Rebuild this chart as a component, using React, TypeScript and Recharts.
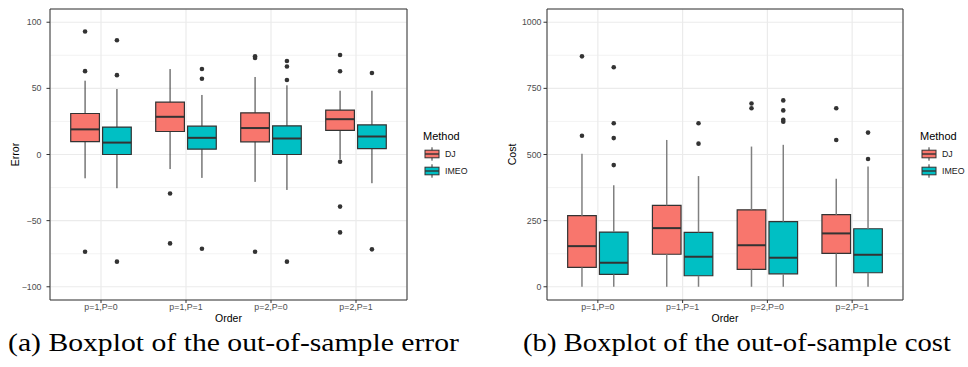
import React from "react"
import {
  ComposedChart,
  XAxis,
  YAxis,
  CartesianGrid,
  ReferenceArea,
  ReferenceLine,
  Scatter,
} from "recharts"

const categories = ["p=1,P=0", "p=1,P=1", "p=2,P=0", "p=2,P=1"]
const methods = ["DJ", "IMEO"]
const methodColors = ["#F8766D", "#00BFC4"]

// box stats per category: [lower whisker, Q1, median, Q3, upper whisker]
const errorDJ = [
  [-18, 9.8, 19, 31, 55.8],
  [-11, 17.4, 28.5, 39.6, 64.6],
  [-20.7, 9.6, 20, 31.5, 58.6],
  [-3.5, 18.2, 26.7, 33.6, 48.2],
]
const errorIMEO = [
  [-25.5, 0, 9, 20.7, 49.5],
  [-17.7, 4, 12.6, 21.4, 45],
  [-26.8, 0, 12.1, 21.7, 52.3],
  [-21.7, 4.5, 13.6, 22.4, 48.2],
]
const errorDJOutliers = [
  [93, 63, -73.5],
  [-29.5, -67.2],
  [74.2, 73, -73.5],
  [75.2, 62.9, -5.5, -39.4, -58.9],
]
const errorIMEOOutliers = [
  [86.4, 60, -81],
  [64.6, 57.3, -71.2],
  [70.7, 66.5, 56.3, -81],
  [61.6, -71.7],
]

const costDJ = [
  [0, 73, 153.6, 268.6, 503],
  [0, 123, 221.7, 307.6, 555],
  [0, 65.5, 157, 291, 530],
  [0, 126, 201.7, 272.4, 408.6],
]
const costIMEO = [
  [0, 46.5, 90.8, 206.6, 384],
  [0, 41.6, 113.5, 205.5, 418.5],
  [0, 49, 109.8, 246, 536.6],
  [0, 53, 121, 219.4, 455],
]
const costDJOutliers = [[871, 571], [], [693, 675], [674.6, 555]]
const costIMEOOutliers = [
  [830, 618, 562, 460],
  [618, 541],
  [704.5, 666.7, 631.3, 623.7],
  [582.7, 482.8],
]

const errorTicks = [-100, -50, 0, 50, 100]
const errorMinor = [-75, -25, 25, 75]
const costTicks = [0, 250, 500, 750, 1000]
const costMinor = [125, 375, 625, 875]

const DODGE = 0.1875
const HALF = 0.16875
const SANS = "'Liberation Sans', Arial, sans-serif"

const fmt = (v: number) => (v < 0 ? "\u2212" + Math.abs(v) : String(v))

type PanelProps = {
  stats: number[][][]
  outliers: number[][][]
  domain: [number, number]
  ticks: number[]
  minor: number[]
  yLabel: string
  labelX: number
  whiskerColor: string
  whiskerWidth: number
  yAxisWidth: number
  tickMargin: number
  rightMargin: number
}

function BoxPanel(p: PanelProps) {
  const items: React.ReactNode[] = []
  p.stats.forEach((series, m) => {
    const off = m === 0 ? -DODGE : DODGE
    series.forEach((s, i) => {
      const cx = i + 1 + off
      items.push(
        <ReferenceLine
          key={`wl-${m}-${i}`}
          segment={[{ x: cx, y: s[0] }, { x: cx, y: s[1] }]}
          stroke={p.whiskerColor}
          strokeWidth={p.whiskerWidth}
        />,
        <ReferenceLine
          key={`wh-${m}-${i}`}
          segment={[{ x: cx, y: s[3] }, { x: cx, y: s[4] }]}
          stroke={p.whiskerColor}
          strokeWidth={p.whiskerWidth}
        />,
        <ReferenceArea
          key={`box-${m}-${i}`}
          x1={cx - HALF}
          x2={cx + HALF}
          y1={s[1]}
          y2={s[3]}
          fill={methodColors[m]}
          fillOpacity={1}
          stroke="#333333"
          strokeWidth={1.2}
        />,
        <ReferenceLine
          key={`med-${m}-${i}`}
          segment={[{ x: cx - HALF, y: s[2] }, { x: cx + HALF, y: s[2] }]}
          stroke="#333333"
          strokeWidth={2}
        />
      )
    })
  })

  const points = p.outliers.map((series, m) => {
    const off = m === 0 ? -DODGE : DODGE
    return series.flatMap((vals, i) => vals.map((v) => ({ x: i + 1 + off, y: v })))
  })

  return (
    <ComposedChart
      width={484}
      height={330}
      margin={{ top: 9, right: p.rightMargin, bottom: 0, left: 0 }}
    >
      <CartesianGrid
        stroke="#F0F0F0"
        strokeWidth={0.8}
        vertical={false}
        horizontalValues={p.minor}
      />
      <CartesianGrid stroke="#EBEBEB" strokeWidth={1.2} />
      <XAxis
        type="number"
        dataKey="x"
        domain={[0.4, 4.6]}
        ticks={[1, 2, 3, 4]}
        interval={0}
        allowDataOverflow
        tickFormatter={(v: number) => categories[Math.round(v) - 1]}
        height={30}
        axisLine={false}
        tickLine={{ stroke: "#333333" }}
        tickSize={3}
        tickMargin={1}
        tick={{ fontSize: 8.8, fill: "#4D4D4D", fontFamily: SANS }}
        label={{
          content: (props: any) => {
            const vb = props.viewBox || {}
            return (
              <text
                x={vb.x + vb.width / 2}
                y={vb.y + 22}
                textAnchor="middle"
                fontSize={10.5}
                fontFamily={SANS}
                fill="#000"
              >
                Order
              </text>
            )
          },
        }}
      />
      <YAxis
        type="number"
        dataKey="y"
        domain={p.domain}
        ticks={p.ticks}
        interval={0}
        allowDataOverflow
        tickFormatter={fmt}
        width={p.yAxisWidth}
        axisLine={false}
        tickLine={{ stroke: "#333333" }}
        tickSize={3.5}
        tickMargin={p.tickMargin}
        tick={{ fontSize: 8.8, fill: "#4D4D4D", fontFamily: SANS }}
        label={{
          content: (props: any) => {
            const vb = props.viewBox || {}
            const x = vb.x + p.labelX
            const y = vb.y + vb.height / 2
            return (
              <text
                x={x}
                y={y}
                transform={`rotate(-90 ${x} ${y})`}
                textAnchor="middle"
                fontSize={10.5}
                fontFamily={SANS}
                fill="#000"
              >
                {p.yLabel}
              </text>
            )
          },
        }}
      />
      {items}
      {points.map((data, m) => (
        <Scatter
          key={`pts-${m}`}
          name={methods[m]}
          data={data}
          isAnimationActive={false}
          shape={(sp: any) => <circle cx={sp.cx} cy={sp.cy} r={2.3} fill="#333333" />}
        />
      ))}
      <ReferenceArea
        x1={0.4}
        x2={4.6}
        y1={p.domain[0]}
        y2={p.domain[1]}
        fill="none"
        stroke="#333333"
        strokeWidth={1}
      />
    </ComposedChart>
  )
}

function LegendBlock({ x }: { x: number }) {
  return (
    <g>
      <text x={x} y={139.5} fontSize={11} fontFamily={SANS} fill="#000">
        Method
      </text>
      {methods.map((name, m) => {
        const cy = 154 + 17 * m
        const kx = x + 2
        return (
          <g key={name}>
            <line x1={kx + 7} x2={kx + 7} y1={cy - 6.7} y2={cy + 6.7} stroke="#333" strokeWidth={1} />
            <rect x={kx} y={cy - 3.8} width={14} height={7.6} fill={methodColors[m]} stroke="#333" strokeWidth={1} />
            <line x1={kx} x2={kx + 14} y1={cy} y2={cy} stroke="#333" strokeWidth={1.4} />
            <text x={x + 22} y={cy + 3.2} fontSize={8.8} fontFamily={SANS} fill="#1a1a1a">
              {name}
            </text>
          </g>
        )
      })}
    </g>
  )
}

export default function App() {
  return (
    <div style={{ position: "absolute", left: 0, top: 0, width: 968, height: 367, background: "#fff" }}>
      <div style={{ position: "absolute", left: 0, top: 0 }}>
        <BoxPanel
          stats={[errorDJ, errorIMEO]}
          outliers={[errorDJOutliers, errorIMEOOutliers]}
          domain={[-110, 110]}
          ticks={errorTicks}
          minor={errorMinor}
          yLabel="Error"
          labelX={19}
          whiskerColor="#333333"
          whiskerWidth={1}
          yAxisWidth={50}
          tickMargin={5}
          rightMargin={77}
        />
      </div>
      <div style={{ position: "absolute", left: 484, top: 0 }}>
        <BoxPanel
          stats={[costDJ, costIMEO]}
          outliers={[costDJOutliers, costIMEOOutliers]}
          domain={[-50, 1050]}
          ticks={costTicks}
          minor={costMinor}
          yLabel="Cost"
          labelX={32}
          whiskerColor="#808080"
          whiskerWidth={1.5}
          yAxisWidth={63}
          tickMargin={2}
          rightMargin={65}
        />
      </div>
      <svg
        width={968}
        height={367}
        style={{ position: "absolute", left: 0, top: 0, pointerEvents: "none" }}
      >
        <LegendBlock x={423} />
        <LegendBlock x={920} />
        <text
          x={8}
          y={351}
          fontSize={25}
          fontFamily="'Liberation Serif', 'Times New Roman', serif"
          fill="#000"
          textLength={451}
          lengthAdjust="spacingAndGlyphs"
        >
          (a) Boxplot of the out-of-sample error
        </text>
        <text
          x={523}
          y={351}
          fontSize={25}
          fontFamily="'Liberation Serif', 'Times New Roman', serif"
          fill="#000"
          textLength={428}
          lengthAdjust="spacingAndGlyphs"
        >
          (b) Boxplot of the out-of-sample cost
        </text>
      </svg>
    </div>
  )
}
